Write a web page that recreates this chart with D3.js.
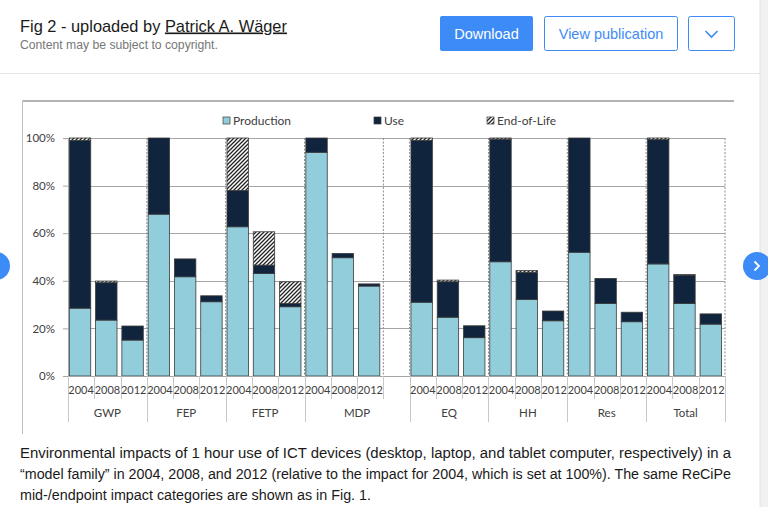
<!DOCTYPE html>
<html><head><meta charset="utf-8">
<script src="https://cdn.jsdelivr.net/npm/d3@7"></script>
<style>
html,body{margin:0;padding:0;background:#fff;overflow:hidden;}
svg{display:block;}
</style></head>
<body>
<svg id="c" width="768" height="507"></svg>
<script>
// ---- data ----
const groups = ["GWP","FEP","FETP","MDP","EQ","HH","Res","Total"];
const years = ["2004","2008","2012"];
const seriesNames = ["Production","Use","End-of-Life"];
const production = [28.5,23.5,15.1, 68.0,41.7,31.2, 62.7,43.1,29.1, 94.0,49.7,37.8, 31.0,24.7,16.1, 48.0,32.2,23.2, 52.0,30.5,22.8, 47.1,30.5,21.8];
const use        = [70.5,15.7, 5.9, 32.0, 7.5, 2.5, 15.2, 3.5, 1.4,  6.0, 1.8, 0.9, 68.0,14.9, 5.0, 51.5,11.4, 4.1, 48.0,10.5, 4.0, 52.2,11.9, 4.3];
const endOfLife  = [ 1.0, 0.7, 0.0,  0.0, 0.0, 0.0, 22.1,14.0, 9.1,  0.0, 0.0, 0.0,  1.0, 0.7, 0.0,  0.5, 0.7, 0.0,  0.0, 0.0, 0.0,  0.7, 0.2, 0.0];
const yTicks = [0,20,40,60,80,100];
const captionLines = [
 "Environmental impacts of 1 hour use of ICT devices (desktop, laptop, and tablet computer, respectively) in a",
 "\u201cmodel family\u201d in 2004, 2008, and 2012 (relative to the impact for 2004, which is set at 100%). The same ReCiPe",
 "mid-/endpoint impact categories are shown as in Fig. 1."
];
const captionWidths = [711, 711, 351];

// ---- build slots (a blank slot follows MDP) ----
const slots = [];
const rows = [];
groups.forEach((g,gi)=>{
  years.forEach((y,yi)=>{
    const i = gi*3+yi;
    const key = g+"|"+y;
    slots.push({key, group:g, year:y});
    rows.push({key, Production:production[i], Use:use[i], "End-of-Life":endOfLife[i]});
  });
  if(g==="MDP") slots.push({key:"MDP|blank", group:"MDP", year:""});
});

const svg = d3.select("#c");
const FONT_UI = "'Liberation Sans', Arial, sans-serif";
const FONT_CH = "Lato, 'Open Sans', sans-serif";
const BLUE = "#3d8bf6";

// ---- page chrome ----
svg.append("rect").attr("x",760).attr("y",0).attr("width",8).attr("height",507).attr("fill","#f1f1f1");
svg.append("line").attr("x1",760).attr("x2",760).attr("y1",0).attr("y2",507).attr("stroke","#e2e2e2");
const title = svg.append("text").attr("x",20).attr("y",31.5).attr("font-family",FONT_UI).attr("font-size",16.4).attr("fill","#1a1a1a");
title.append("tspan").text("Fig 2 - uploaded by ");
title.append("tspan").attr("text-decoration","underline").text("Patrick A. W\u00e4ger");
svg.append("text").attr("x",20).attr("y",48.5).attr("font-family",FONT_UI).attr("font-size",12.2).attr("fill","#777").text("Content may be subject to copyright.");

svg.append("rect").attr("x",440).attr("y",16).attr("width",93).attr("height",35).attr("rx",2).attr("fill",BLUE);
svg.append("text").attr("x",486.5).attr("y",38.5).attr("text-anchor","middle").attr("font-family",FONT_UI).attr("font-size",14.5).attr("fill","#fff").text("Download");
svg.append("rect").attr("x",544.5).attr("y",16.5).attr("width",133).attr("height",34).attr("rx",2).attr("fill","#fff").attr("stroke",BLUE);
svg.append("text").attr("x",611).attr("y",38.5).attr("text-anchor","middle").attr("font-family",FONT_UI).attr("font-size",14.5).attr("fill",BLUE).text("View publication");
svg.append("rect").attr("x",688.5).attr("y",16.5).attr("width",46).attr("height",34).attr("rx",2).attr("fill","#fff").attr("stroke",BLUE);
svg.append("path").attr("d","M705.5,31 L711.5,37 L717.5,31").attr("fill","none").attr("stroke",BLUE).attr("stroke-width",1.6);
svg.append("line").attr("x1",0).attr("x2",760).attr("y1",73.5).attr("y2",73.5).attr("stroke","#e3e3e3");

// figure border (top + left)
svg.append("line").attr("x1",22.5).attr("x2",734).attr("y1",101).attr("y2",101).attr("stroke","#9a9a9a").attr("stroke-width",1.5);
svg.append("line").attr("x1",22.5).attr("x2",22.5).attr("y1",101).attr("y2",434).attr("stroke","#bdbdbd");

// ---- pattern ----
const defs = svg.append("defs");
const pat = defs.append("pattern").attr("id","hatch").attr("patternUnits","userSpaceOnUse").attr("width",4).attr("height",4);
pat.append("rect").attr("width",4).attr("height",4).attr("fill","#fff");
pat.append("path").attr("d","M-1,1 L1,-1 M0,4 L4,0 M3,5 L5,3").attr("stroke","#222").attr("stroke-width",1.3);

const colors = {"Production":"#92cddc","Use":"#10243e","End-of-Life":"url(#hatch)"};

// ---- scales ----
const plotL = 68, plotR = 725, plotT = 138, plotB = 376;
const x = d3.scaleBand().domain(slots.map(s=>s.key)).range([plotL,plotR]).paddingInner(0).paddingOuter(0);
const y = d3.scaleLinear().domain([0,100]).range([plotB,plotT]);
const bw = x.bandwidth();

// gridlines
svg.append("g").selectAll("line").data(yTicks.filter(t=>t>0)).join("line")
  .attr("x1",plotL).attr("x2",plotR).attr("y1",d=>Math.round(y(d))+0.5).attr("y2",d=>Math.round(y(d))+0.5)
  .attr("stroke","#a6a6a6").attr("stroke-width",1);

// group spans
let idx=0;
const groupSpans = [];
groups.forEach(g=>{
  const n = slots.filter(s=>s.group===g).length;
  groupSpans.push({g, start:idx, end:idx+n});
  idx+=n;
});
const dashedIdx = [3,6,9,12,13,16,19,22,25];
const xAt = i => plotL + i*bw;
svg.append("g").selectAll("line").data(dashedIdx).join("line")
  .attr("x1",d=>xAt(d)).attr("x2",d=>xAt(d)).attr("y1",plotT).attr("y2",plotB)
  .attr("stroke","#8c8c8c").attr("stroke-width",1).attr("stroke-dasharray","2,1.5");

// bars
const stack = d3.stack().keys(seriesNames);
const stacked = stack(rows);
const barG = svg.append("g");
stacked.forEach(layer=>{
  barG.append("g").selectAll("rect").data(layer.filter(d=>d[1]-d[0]>0)).join("rect")
    .attr("x",d=>x(d.data.key)+bw*0.05)
    .attr("width",bw*0.815)
    .attr("y",d=>y(d[1]))
    .attr("height",d=>y(d[0])-y(d[1]))
    .attr("fill",colors[layer.key])
    .attr("stroke","#3b3b3b").attr("stroke-width",0.8);
});

// y axis
const yAxis = d3.axisLeft(y).tickValues(yTicks).tickFormat(d=>d+"%").tickSize(5).tickPadding(8);
const yg = svg.append("g").attr("transform",`translate(${plotL},0)`).call(yAxis);
yg.select(".domain").attr("stroke","#a6a6a6");
yg.selectAll(".tick line").attr("stroke","#a6a6a6");
yg.selectAll("text").attr("font-family",FONT_CH).attr("font-size",11.5).attr("fill","#404040");

// x axis baseline
svg.append("line").attr("x1",plotL).attr("x2",plotR).attr("y1",plotB+0.5).attr("y2",plotB+0.5).attr("stroke","#a6a6a6");

// category separators
const longIdx = new Set([0,3,6,9,13,16,19,22,25]);
const sepIdx = d3.range(0,26);
svg.append("g").selectAll("line").data(sepIdx).join("line")
  .attr("x1",d=>Math.round(xAt(d))+0.5).attr("x2",d=>Math.round(xAt(d))+0.5)
  .attr("y1",plotB).attr("y2",d=>longIdx.has(d)?422:399)
  .attr("stroke","#c8c8c8");

// year labels
svg.append("g").selectAll("text").data(slots.filter(s=>s.year)).join("text")
  .attr("x",d=>x(d.key)+bw/2).attr("y",394)
  .attr("text-anchor","middle").attr("font-family",FONT_CH).attr("font-size",11).attr("fill","#404040")
  .text(d=>d.year);
// group labels
svg.append("g").selectAll("text").data(groupSpans).join("text")
  .attr("x",d=>(xAt(d.start)+xAt(d.end))/2).attr("y",417)
  .attr("text-anchor","middle").attr("font-family",FONT_CH).attr("font-size",11.5).attr("fill","#404040")
  .text(d=>d.g);

// legend
const legendX = {"Production":223, "Use":374, "End-of-Life":487};
const lg = svg.append("g");
seriesNames.forEach(n=>{
  lg.append("rect").attr("x",legendX[n]).attr("y",117).attr("width",7).attr("height",7)
    .attr("fill",colors[n]).attr("stroke","#3b3b3b").attr("stroke-width",0.7);
  lg.append("text").attr("x",legendX[n]+10).attr("y",125).attr("font-family",FONT_CH).attr("font-size",12).attr("fill","#404040").text(n);
});

// nav circles
svg.append("circle").attr("cx",-4).attr("cy",266).attr("r",14).attr("fill",BLUE);
svg.append("circle").attr("cx",757).attr("cy",266).attr("r",14).attr("fill",BLUE);
svg.append("path").attr("d","M754.5,261.5 L759,266 L754.5,270.5").attr("fill","none").attr("stroke","#fff").attr("stroke-width",1.8);

// caption
svg.append("g").selectAll("text").data(captionLines).join("text")
  .attr("x",20).attr("y",(d,i)=>458+i*21)
  .attr("font-family",FONT_UI).attr("font-size",14.7).attr("fill","#1a1a1a")
  .attr("textLength",(d,i)=>captionWidths[i]).attr("lengthAdjust","spacingAndGlyphs")
  .text(d=>d);
</script>
</body></html>
